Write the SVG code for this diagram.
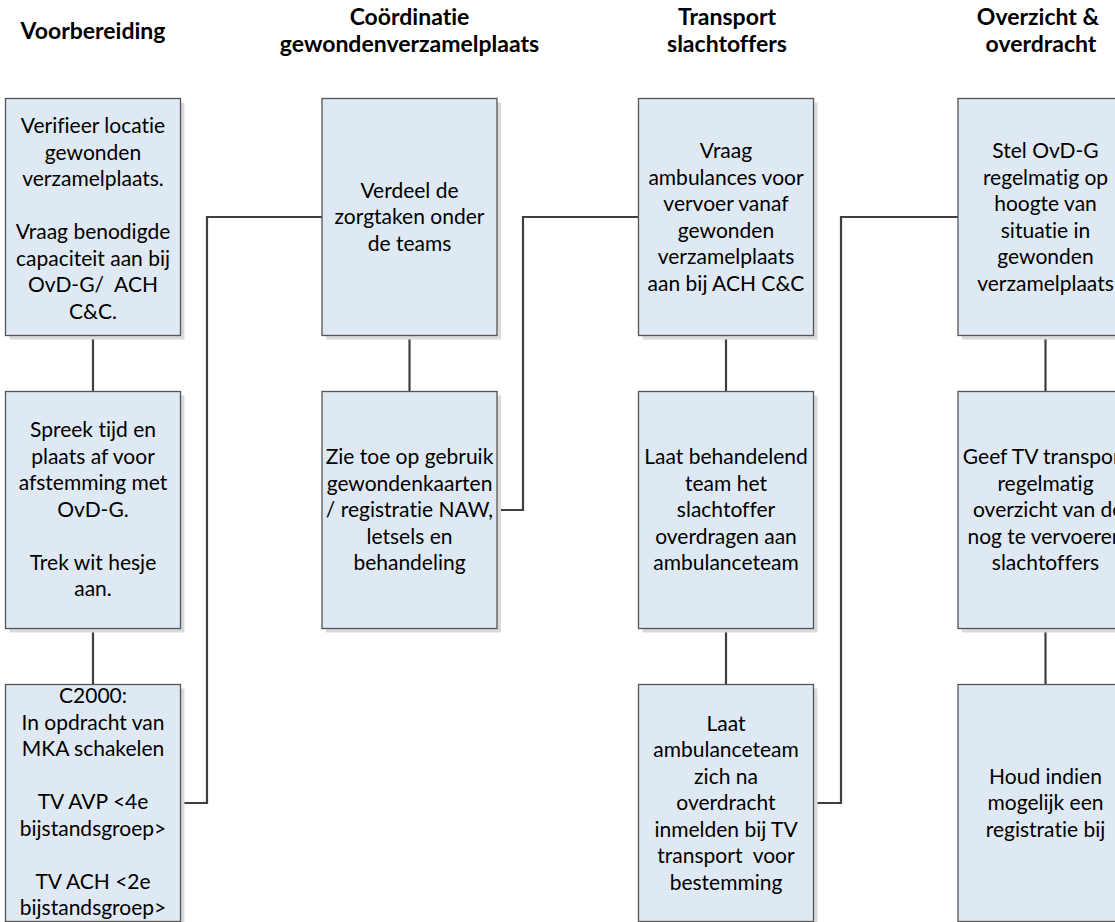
<svg xmlns="http://www.w3.org/2000/svg" width="1115" height="922" viewBox="0 0 1115 922">
<style>
.box{fill:#dfe9f3;stroke:#555;stroke-width:1.3}
.sh{fill:#dadada}
.t{font-family:Lato,"Open Sans",sans-serif;font-size:21px;fill:#000;text-anchor:middle;font-variant-ligatures:none}
.h{font-family:Lato,"Open Sans",sans-serif;font-size:23px;font-weight:bold;fill:#000;text-anchor:middle;font-variant-ligatures:none}
.c{fill:none;stroke:#3f3f3f;stroke-width:2.2}
</style>
<rect width="1115" height="922" fill="#fff"/>
<g id="headers">
<text class="h" x="93" y="39">Voorbereiding</text>
<text class="h" x="409.5" y="25">Coördinatie</text>
<text class="h" x="409.5" y="52">gewondenverzamelplaats</text>
<text class="h" x="727" y="25">Transport</text>
<text class="h" x="727" y="52">slachtoffers</text>
<text class="h" x="1038" y="25">Overzicht &amp;</text>
<text class="h" x="1041" y="52">overdracht</text>
</g>
<g id="connectors">
<path class="c" d="M93 335.5V391.5M93 628.5V684.5"/>
<path class="c" d="M180.5 803H207V217H322"/>
<path class="c" d="M409.5 335.5V391.5"/>
<path class="c" d="M496.5 510H523V217H638.5"/>
<path class="c" d="M726 335.5V391.5M726 628.5V684.5"/>
<path class="c" d="M813.5 803H841V217H958"/>
<path class="c" d="M1045.5 335.5V391.5M1045.5 628.5V684.5"/>
</g>
<g id="n1">
<rect class="sh" x="9.5" y="102.5" width="175" height="237"/>
<rect class="box" x="5.5" y="98.5" width="175" height="237"/>
<text class="t"><tspan x="93" y="133">Verifieer locatie</tspan><tspan x="93" y="159.5">gewonden</tspan><tspan x="93" y="186">verzamelplaats.</tspan><tspan x="93" y="239">Vraag benodigde</tspan><tspan x="93" y="265.5">capaciteit aan bij</tspan><tspan x="93" y="292" xml:space="preserve">OvD-G/  ACH</tspan><tspan x="93" y="318.5">C&amp;C.</tspan></text>
</g>
<g id="n2">
<rect class="sh" x="9.5" y="395.5" width="175" height="237"/>
<rect class="box" x="5.5" y="391.5" width="175" height="237"/>
<text class="t"><tspan x="93" y="437">Spreek tijd en</tspan><tspan x="93" y="463.5">plaats af voor</tspan><tspan x="93" y="490">afstemming met</tspan><tspan x="93" y="516.5">OvD-G.</tspan><tspan x="93" y="569.5">Trek wit hesje</tspan><tspan x="93" y="596">aan.</tspan></text>
</g>
<g id="n3">
<rect class="sh" x="9.5" y="688.5" width="175" height="237"/>
<rect class="box" x="5.5" y="684.5" width="175" height="237"/>
<text class="t"><tspan x="93" y="703">C2000:</tspan><tspan x="93" y="729.5">In opdracht van</tspan><tspan x="93" y="756">MKA schakelen</tspan><tspan x="93" y="809">TV AVP &lt;4e</tspan><tspan x="93" y="835.5">bijstandsgroep&gt;</tspan><tspan x="93" y="888.5">TV ACH &lt;2e</tspan><tspan x="93" y="915">bijstandsgroep&gt;</tspan></text>
</g>
<g id="n4">
<rect class="sh" x="326" y="102.5" width="175" height="237"/>
<rect class="box" x="322" y="98.5" width="175" height="237"/>
<text class="t"><tspan x="409.5" y="197.5">Verdeel de</tspan><tspan x="409.5" y="224">zorgtaken onder</tspan><tspan x="409.5" y="250.5">de teams</tspan></text>
</g>
<g id="n5">
<rect class="sh" x="326" y="395.5" width="175" height="237"/>
<rect class="box" x="322" y="391.5" width="175" height="237"/>
<text class="t"><tspan x="409.5" y="464">Zie toe op gebruik</tspan><tspan x="409.5" y="490.5">gewondenkaarten</tspan><tspan x="409.5" y="517">/ registratie NAW,</tspan><tspan x="409.5" y="543.5">letsels en</tspan><tspan x="409.5" y="570">behandeling</tspan></text>
</g>
<g id="n6">
<rect class="sh" x="642.5" y="102.5" width="175" height="237"/>
<rect class="box" x="638.5" y="98.5" width="175" height="237"/>
<text class="t"><tspan x="726" y="158">Vraag</tspan><tspan x="726" y="184.5">ambulances voor</tspan><tspan x="726" y="211">vervoer vanaf</tspan><tspan x="726" y="237.5">gewonden</tspan><tspan x="726" y="264">verzamelplaats</tspan><tspan x="726" y="290.5">aan bij ACH C&amp;C</tspan></text>
</g>
<g id="n7">
<rect class="sh" x="642.5" y="395.5" width="175" height="237"/>
<rect class="box" x="638.5" y="391.5" width="175" height="237"/>
<text class="t"><tspan x="726" y="464">Laat behandelend</tspan><tspan x="726" y="490.5">team het</tspan><tspan x="726" y="517">slachtoffer</tspan><tspan x="726" y="543.5">overdragen aan</tspan><tspan x="726" y="570">ambulanceteam</tspan></text>
</g>
<g id="n8">
<rect class="sh" x="642.5" y="688.5" width="175" height="237"/>
<rect class="box" x="638.5" y="684.5" width="175" height="237"/>
<text class="t" xml:space="preserve"><tspan x="726" y="730.5">Laat</tspan><tspan x="726" y="757">ambulanceteam</tspan><tspan x="726" y="783.5">zich na</tspan><tspan x="726" y="810">overdracht</tspan><tspan x="726" y="836.5">inmelden bij TV</tspan><tspan x="726" y="863">transport  voor</tspan><tspan x="726" y="889.5">bestemming</tspan></text>
</g>
<g id="n9">
<rect class="sh" x="962" y="102.5" width="175" height="237"/>
<rect class="box" x="958" y="98.5" width="175" height="237"/>
<text class="t"><tspan x="1045.5" y="158">Stel OvD-G</tspan><tspan x="1045.5" y="184.5">regelmatig op</tspan><tspan x="1045.5" y="211">hoogte van</tspan><tspan x="1045.5" y="237.5">situatie in</tspan><tspan x="1045.5" y="264">gewonden</tspan><tspan x="1045.5" y="290.5">verzamelplaats</tspan></text>
</g>
<g id="n10">
<rect class="sh" x="962" y="395.5" width="175" height="237"/>
<rect class="box" x="958" y="391.5" width="175" height="237"/>
<text class="t" xml:space="preserve"><tspan x="1045.5" y="464">Geef TV transport</tspan><tspan x="1045.5" y="490.5">regelmatig</tspan><tspan x="1045.5" y="517"> overzicht van de</tspan><tspan x="1045.5" y="543.5">nog te vervoeren</tspan><tspan x="1045.5" y="570">slachtoffers</tspan></text>
</g>
<g id="n11">
<rect class="sh" x="962" y="688.5" width="175" height="237"/>
<rect class="box" x="958" y="684.5" width="175" height="237"/>
<text class="t"><tspan x="1045.5" y="783.5">Houd indien</tspan><tspan x="1045.5" y="810">mogelijk een</tspan><tspan x="1045.5" y="836.5">registratie bij</tspan></text>
</g>
</svg>
